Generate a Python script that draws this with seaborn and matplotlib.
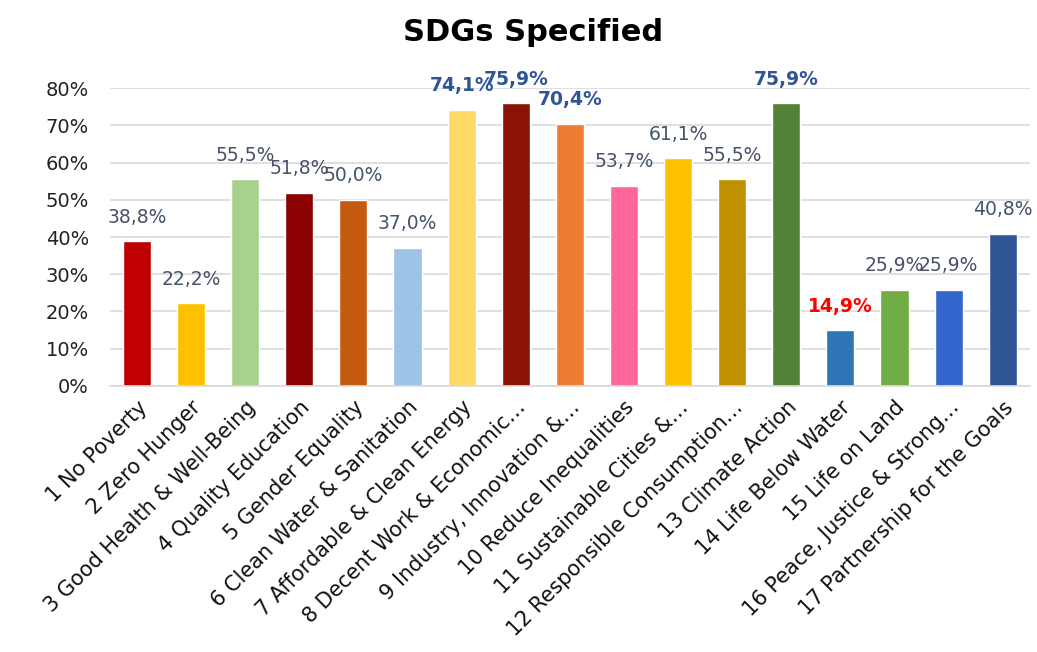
import matplotlib
matplotlib.use("Agg")
import matplotlib.pyplot as plt
import seaborn as sns
import pandas as pd
from matplotlib.ticker import PercentFormatter

categories = ["1 No Poverty", "2 Zero Hunger", "3 Good Health & Well-Being",
              "4 Quality Education", "5 Gender Equality", "6 Clean Water & Sanitation",
              "7 Affordable & Clean Energy", "8 Decent Work & Economic…",
              "9 Industry, Innovation &…", "10 Reduce Inequalities",
              "11 Sustainable Cities &…", "12 Responsible Consumption…",
              "13 Climate Action", "14 Life Below Water", "15 Life on Land",
              "16 Peace, Justice & Strong…", "17 Partnership for the Goals"]
values = [38.8, 22.2, 55.5, 51.8, 50.0, 37.0, 74.1, 75.9, 70.4, 53.7, 61.1, 55.5,
          75.9, 14.9, 25.9, 25.9, 40.8]
bar_colors = ["#C00000", "#FFC000", "#A9D18E", "#8B0000", "#C55A11", "#9DC3E6",
              "#FFD966", "#8B1206", "#ED7D31", "#FF6699", "#FFC000", "#BF9000",
              "#538135", "#2E75B6", "#70AD47", "#3366CC", "#2F5597"]
highlight = ["normal"] * 6 + ["high", "high", "high"] + ["normal"] * 3 + ["high", "low"] + ["normal"] * 3

sns.set_theme(style="white")
plt.rcParams['font.family'] = ['DejaVu Sans']

df = pd.DataFrame({"cat": categories, "val": values})

fig = plt.figure(figsize=(10.37, 6.52), dpi=100)
ax = fig.add_axes([0.106, 0.408, 0.887, 0.457])
sns.barplot(data=df, x="cat", y="val", hue="cat", palette=bar_colors,
            legend=False, ax=ax, width=0.52, saturation=1)

ax.set_ylim(0, 80)
ax.set_yticks(range(0, 81, 10))
ax.yaxis.set_major_formatter(PercentFormatter(decimals=0))
ax.grid(axis="y", color="#D9D9D9", linewidth=1.2)
ax.set_axisbelow(True)
for s in ["left", "right", "top"]:
    ax.spines[s].set_visible(False)
ax.spines["bottom"].set_color("#D9D9D9")
ax.spines["bottom"].set_linewidth(1.2)
ax.set_xlabel("")
ax.set_ylabel("")
ax.tick_params(axis="y", labelsize=14, length=0, pad=15, labelcolor="#222222")
ax.tick_params(axis="x", length=0, pad=8)
ax.set_xticks(range(len(categories)))
ax.set_xticklabels(categories, rotation=45, ha="right", rotation_mode="anchor",
                   fontsize=15, color="#111111")

for i, (v, h) in enumerate(zip(values, highlight)):
    lbl = f"{v:.1f}%".replace(".", ",")
    if h == "high":
        ax.text(i, v + 6.5, lbl, ha="center", va="center", fontsize=13.5,
                fontweight="bold", color="#2F5597")
    elif h == "low":
        ax.text(i, v + 6.5, lbl, ha="center", va="center", fontsize=13.5,
                fontweight="bold", color="#FF0000")
    else:
        ax.text(i, v + 6.5, lbl, ha="center", va="center", fontsize=13.5,
                color="#44546A")

fig.text(0.514, 0.95, "SDGs Specified", ha="center", va="center",
         fontsize=22, fontweight="bold", color="#000000")

fig.savefig("out.png", dpi=100, facecolor="white")
